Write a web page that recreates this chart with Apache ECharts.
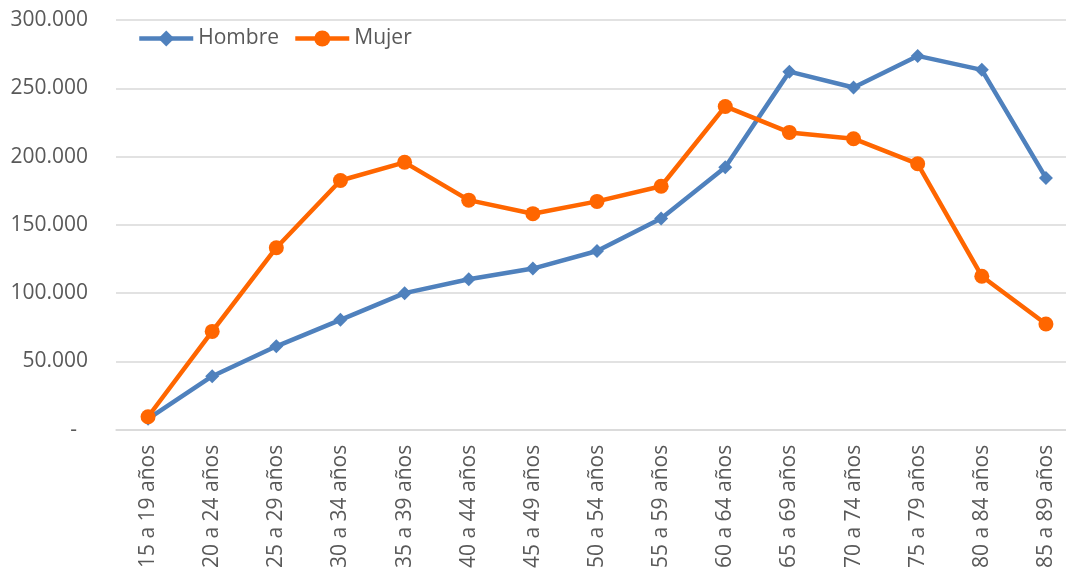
<!DOCTYPE html>
<html>
<head>
<meta charset="utf-8">
<script src="https://cdn.jsdelivr.net/npm/echarts@6/dist/echarts.min.js"></script>
<style>
  html, body { margin: 0; padding: 0; background: #fff; overflow: hidden; }
  /* el gráfico original está recortado por la derecha */
  #chart { width: 1078px; height: 571px; }
</style>
</head>
<body>
<div id="chart"></div>
<script>
const categories = ['15 a 19 años', '20 a 24 años', '25 a 29 años', '30 a 34 años', '35 a 39 años',
  '40 a 44 años', '45 a 49 años', '50 a 54 años', '55 a 59 años', '60 a 64 años',
  '65 a 69 años', '70 a 74 años', '75 a 79 años', '80 a 84 años', '85 a 89 años']
const hombre = [8000, 39200, 61100, 80500, 100000, 110200, 118000, 130900, 154700, 192200, 262200, 250600, 273700, 263500, 184400]
const mujer = [9500, 72000, 133300, 182500, 195800, 168100, 158200, 167200, 178300, 236700, 217700, 213100, 194700, 112400, 77400]

const font = '"Open Sans", "Liberation Sans", sans-serif'
const textColor = '#595959'
const blue = '#4f81bd'
const orange = '#ff6600'

const chart = echarts.init(document.getElementById('chart'))

// formato contable: miles con punto, cero como guion
function fmt(v) {
  if (v === 0) return '-  '
  return String(v).replace(/\B(?=(\d{3})+(?!\d))/g, '.')
}

chart.setOption({
  animation: false,
  textStyle: { fontFamily: font },
  grid: { left: 116, right: 0, top: 20, bottom: 140, containLabel: false },
  legend: {
    left: 132,
    top: 23,
    itemWidth: 54,
    itemHeight: 20,
    itemGap: 14,
    textStyle: { color: textColor, fontSize: 21, fontFamily: font },
    data: [
      { name: 'Hombre', lineStyle: { width: 4.5, color: blue }, itemStyle: { color: blue } },
      { name: 'Mujer', lineStyle: { width: 4.5, color: orange }, itemStyle: { color: orange } },
    ],
  },
  xAxis: {
    type: 'category',
    data: categories,
    axisLine: { lineStyle: { color: '#d9d9d9', width: 1.5 } },
    axisTick: { show: false },
    axisLabel: { rotate: 90, color: textColor, fontSize: 21, margin: 15, interval: 0 },
  },
  yAxis: {
    type: 'value',
    min: 0,
    max: 300000,
    interval: 50000,
    axisLine: { show: false },
    axisTick: { show: false },
    splitLine: { lineStyle: { color: '#d9d9d9', width: 1.5 } },
    axisLabel: { color: textColor, fontSize: 21, margin: 28, formatter: fmt },
  },
  series: [
    {
      name: 'Hombre',
      type: 'line',
      data: hombre,
      symbol: 'diamond',
      symbolSize: 14,
      lineStyle: { width: 4.5, color: blue },
      itemStyle: { color: blue },
    },
    {
      name: 'Mujer',
      type: 'line',
      data: mujer,
      symbol: 'circle',
      symbolSize: 15,
      lineStyle: { width: 4.5, color: orange },
      itemStyle: { color: orange },
    },
  ],
})
</script>
</body>
</html>
